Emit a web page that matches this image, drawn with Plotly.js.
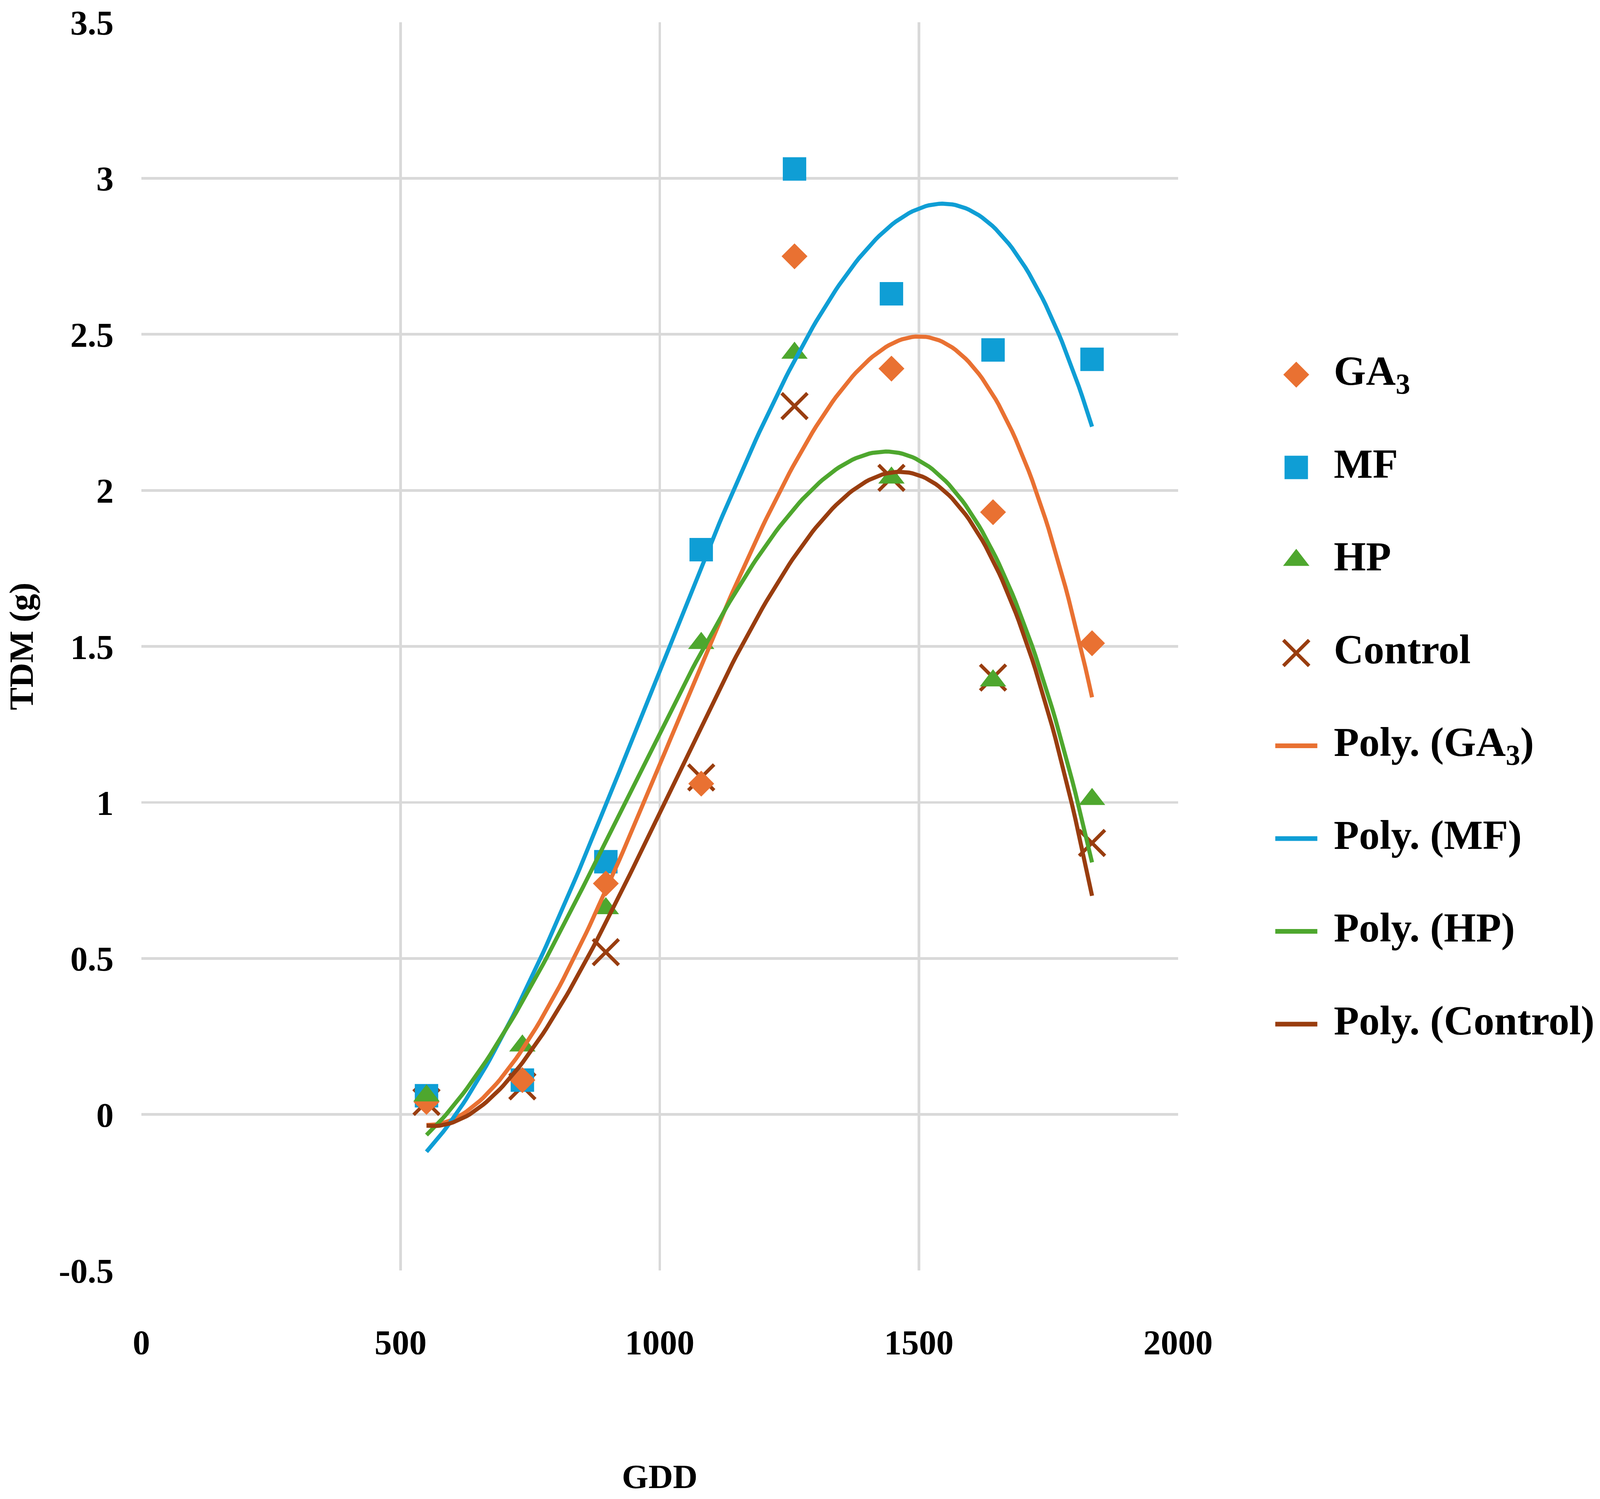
<!DOCTYPE html>
<html>
<head>
<meta charset="utf-8">
<script src="https://cdn.plot.ly/plotly-3.0.1.min.js"></script>
<style>html,body{margin:0;padding:0;background:#fff;overflow:hidden}</style>
</head>
<body>
<div id="chart"></div>
<script>
// GDD sampling points and total dry matter per treatment
var gdd = [550, 735, 896, 1080, 1260, 1447, 1643, 1834];
var ga3 = [0.04, 0.11, 0.74, 1.06, 2.75, 2.39, 1.93, 1.51];
var mf = [0.06, 0.11, 0.81, 1.81, 3.03, 2.63, 2.45, 2.42];
var hp = [0.06, 0.22, 0.66, 1.51, 2.44, 2.04, 1.39, 1.01];
var control = [0.04, 0.09, 0.52, 1.08, 2.27, 2.04, 1.40, 0.87];

var legendNames = ["GA<sub>3</sub>", "MF", "HP", "Control",
  "Poly. (GA<sub>3</sub>)", "Poly. (MF)", "Poly. (HP)", "Poly. (Control)"];
var xTicks = [0, 500, 1000, 1500, 2000];
var yTicks = [-0.5, 0, 0.5, 1, 1.5, 2, 2.5, 3, 3.5];
var yTickText = ["-0.5", "0", "0.5", "1", "1.5", "2", "2.5", "3", "3.5"];

var FONT = "Liberation Serif, Times New Roman, serif";
var ORANGE = "#E97132", BLUE = "#0F9ED5", GREEN = "#4EA72E", BROWN = "#993D0F";

// designed for 7285x3837; scale to whatever window we actually get
var W = window.innerWidth || 7285, H = window.innerHeight || 3837;
var sx = Math.min(1, W / 7285), sy = Math.min(1, H / 3837);
var fs = sx;                      // text must fit horizontally
var ms = Math.sqrt(sx * sy);      // marker and line scale
var PW = Math.round(7285 * sx), PH = Math.round(3837 * sy);

// least squares polynomial, like an Excel "Poly." trendline
function polyFit(xs, ys, order) {
  var n = order + 1, A = [], b = [], i, j, k;
  for (i = 0; i < n; i++) {
    A.push([]);
    b.push(0);
    for (j = 0; j < n; j++) A[i].push(0);
  }
  for (k = 0; k < xs.length; k++) {
    var t = xs[k] / 1000;
    for (i = 0; i < n; i++) {
      b[i] += ys[k] * Math.pow(t, i);
      for (j = 0; j < n; j++) A[i][j] += Math.pow(t, i + j);
    }
  }
  for (i = 0; i < n; i++) {
    var p = i;
    for (k = i + 1; k < n; k++) if (Math.abs(A[k][i]) > Math.abs(A[p][i])) p = k;
    var tmp = A[i]; A[i] = A[p]; A[p] = tmp;
    var tb = b[i]; b[i] = b[p]; b[p] = tb;
    for (k = i + 1; k < n; k++) {
      var f = A[k][i] / A[i][i];
      for (j = i; j < n; j++) A[k][j] -= f * A[i][j];
      b[k] -= f * b[i];
    }
  }
  var c = new Array(n);
  for (i = n - 1; i >= 0; i--) {
    var s = b[i];
    for (j = i + 1; j < n; j++) s -= A[i][j] * c[j];
    c[i] = s / A[i][i];
  }
  return function (x) {
    var t = x / 1000, v = 0;
    for (var q = 0; q < n; q++) v += c[q] * Math.pow(t, q);
    return v;
  };
}

function trend(ys, color) {
  var fn = polyFit(gdd, ys, 3);
  var xs = [], yv = [];
  var x0 = gdd[0], x1 = gdd[gdd.length - 1];
  for (var i = 0; i <= 200; i++) {
    var x = x0 + (x1 - x0) * i / 200;
    xs.push(x);
    yv.push(fn(x));
  }
  return {x: xs, y: yv, mode: "lines", type: "scatter", showlegend: false,
    line: {color: color, width: 14 * ms}, hoverinfo: "skip"};
}

var markerStyles = [
  {color: ORANGE, symbol: "diamond", size: 68},
  {color: BLUE, symbol: "square", size: 80},
  {color: GREEN, symbol: "triangle-up", size: 78},
  {color: BROWN, symbol: "x-thin", size: 88}
];
var lineColors = [ORANGE, BLUE, GREEN, BROWN];

function markerOf(st) {
  var m = {color: st.color, symbol: st.symbol, size: st.size * ms, line: {width: 0}};
  if (st.symbol === "x-thin") m.line = {color: st.color, width: 12 * ms};
  return m;
}

function points(ys, st) {
  return {x: gdd, y: ys, mode: "markers", type: "scatter", showlegend: false, marker: markerOf(st)};
}

var data = [
  points(control, markerStyles[3]),
  points(mf, markerStyles[1]),
  points(ga3, markerStyles[0]),
  points(hp, markerStyles[2]),
  trend(ga3, ORANGE),
  trend(mf, BLUE),
  trend(hp, GREEN),
  trend(control, BROWN)
];

// hand-drawn legend on its own hidden axes, one row per entry
legendNames.forEach(function (name, i) {
  if (i < 4) {
    data.push({x: [0.5], y: [i], xaxis: "x2", yaxis: "y2", mode: "markers",
      type: "scatter", showlegend: false, cliponaxis: false, marker: markerOf(markerStyles[i])});
  } else {
    data.push({x: [0, 1], y: [i, i], xaxis: "x2", yaxis: "y2", mode: "lines",
      type: "scatter", showlegend: false, cliponaxis: false,
      line: {color: lineColors[i - 4], width: 16 * ms}});
  }
  data.push({x: [1.39], y: [i], xaxis: "x2", yaxis: "y2", mode: "text",
    type: "scatter", showlegend: false, cliponaxis: false, text: [name],
    textposition: "middle right",
    textfont: {family: FONT, size: 188 * fs, color: "#000", weight: "bold"}});
});

var layout = {
  width: PW,
  height: PH,
  margin: {l: Math.round(644 * sx), r: 0, t: Math.round(57 * sy), b: Math.round(585 * sy), pad: 0},
  paper_bgcolor: "#fff",
  plot_bgcolor: "#fff",
  font: {family: FONT, color: "#000", weight: "bold"},
  showlegend: false,
  xaxis: {
    domain: [0, 0.71074],
    range: [0, 2000],
    tickvals: xTicks,
    ticks: "",
    ticklabelstandoff: Math.round(124 * sy),
    tickfont: {family: FONT, size: 158 * fs, weight: "bold"},
    showgrid: true,
    gridcolor: "#d9d9d9",
    gridwidth: 9 * ms,
    zeroline: false,
    showline: false,
    title: {text: "GDD", font: {family: FONT, size: 155 * fs, weight: "bold"}, standoff: Math.round(264 * sy)}
  },
  yaxis: {
    domain: [0, 1],
    range: [-0.5, 3.5],
    tickvals: yTicks,
    ticktext: yTickText,
    ticks: "",
    ticklabelstandoff: Math.round(125 * sx),
    tickfont: {family: FONT, size: 158 * fs, weight: "bold"},
    showgrid: true,
    gridcolor: "#d9d9d9",
    gridwidth: 9 * ms,
    zeroline: false,
    showline: false,
    title: {text: "TDM (g)", font: {family: FONT, size: 155 * fs, weight: "bold"}, standoff: Math.round(64 * sx)}
  },
  xaxis2: {domain: [0.7773, 1], range: [0, 7.703], anchor: "y2", visible: false, fixedrange: true},
  yaxis2: {domain: [0, 1], range: [9.655, -3.798], anchor: "x2", visible: false, fixedrange: true}
};

document.getElementById("chart").style.width = PW + "px";
document.getElementById("chart").style.height = PH + "px";
Plotly.newPlot("chart", data, layout, {staticPlot: true});
</script>
</body>
</html>
